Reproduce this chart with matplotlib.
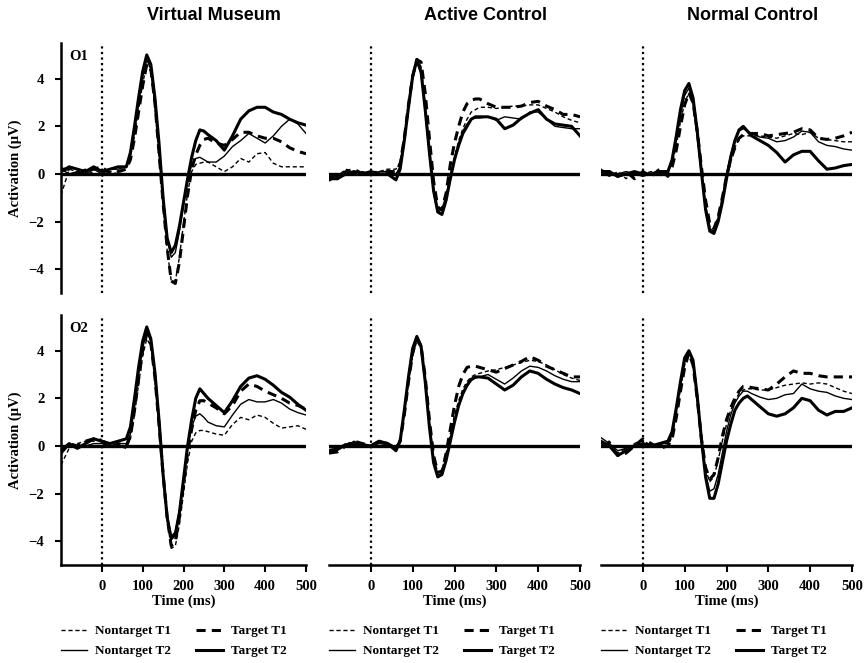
import matplotlib
matplotlib.use('Agg')
import matplotlib.pyplot as plt
import numpy as np

# time axis (ms)
t = [-100, -80, -60, -40, -20, 0, 20, 40, 60,
     70, 80, 90, 100, 110, 120, 130, 140, 150, 160, 170, 180, 190, 200, 210, 220, 230, 240, 250, 260,
     280, 300, 320, 340, 360, 380, 400, 420, 440, 460, 480, 500]

groups = ['Virtual Museum', 'Active Control', 'Normal Control']
channels = ['O1', 'O2']
conditions = ['Nontarget T1', 'Nontarget T2', 'Target T1', 'Target T2']

# ---- Virtual Museum, O1
vm_o1_nt1 = [-0.9, 0.2, 0.1, 0.2, 0.0, -0.1, 0.1, 0.0, 0.3,
             0.7, 1.6, 2.7, 3.8, 4.6, 4.3, 2.8, 0.7, -1.3, -3.2, -4.5, -4.5, -3.5, -2.1, -0.8, 0.1, 0.4, 0.45, 0.5, 0.5,
             0.3, 0.1, 0.3, 0.65, 0.5, 0.85, 0.9, 0.45, 0.3, 0.3, 0.3, 0.3]
vm_o1_t1 = [0.2, 0.2, 0.0, 0.1, 0.2, 0.3, 0.0, 0.1, 0.2,
            0.6, 1.5, 2.6, 3.7, 4.6, 4.4, 3.0, 0.9, -1.2, -3.1, -4.5, -4.6, -3.7, -2.3, -0.9, 0.2, 0.8, 1.2, 1.45, 1.5,
            1.3, 1.2, 1.45, 1.75, 1.75, 1.6, 1.5, 1.5, 1.35, 1.1, 0.95, 0.85]
vm_o1_nt2 = [0.2, 0.0, 0.1, 0.0, 0.2, 0.0, 0.2, 0.2, 0.3,
             0.8, 1.8, 3.0, 4.1, 4.8, 4.4, 2.9, 1.0, -1.0, -2.7, -3.5, -3.3, -2.4, -1.3, -0.3, 0.4, 0.65, 0.7, 0.6, 0.5,
             0.5, 0.75, 1.15, 1.4, 1.7, 1.5, 1.3, 1.6, 2.0, 2.3, 2.1, 1.7]
vm_o1_t2 = [0.1, 0.3, 0.2, 0.1, 0.3, 0.1, 0.2, 0.3, 0.3,
            0.9, 2.0, 3.2, 4.3, 5.0, 4.6, 3.2, 1.3, -1.0, -2.7, -3.3, -3.0, -2.2, -1.2, -0.2, 0.7, 1.4, 1.85, 1.8, 1.65,
            1.4, 1.0, 1.6, 2.3, 2.65, 2.8, 2.8, 2.6, 2.5, 2.3, 2.15, 2.05]

# ---- Active Control, O1
ac_o1_nt1 = [-0.3, -0.1, 0.2, 0.1, 0.0, 0.1, 0.1, 0.2, 0.2,
             0.5, 1.7, 3.0, 4.2, 4.9, 4.5, 3.0, 1.1, -0.6, -1.5, -1.5, -0.9, -0.1, 0.7, 1.4, 1.9, 2.3, 2.6, 2.7, 2.8,
             2.8, 2.75, 2.8, 2.85, 2.85, 2.9, 2.9, 2.75, 2.6, 2.4, 2.25, 2.15]
ac_o1_t1 = [-0.2, -0.2, 0.1, 0.2, 0.0, 0.0, 0.0, 0.1, 0.1,
            0.4, 1.5, 2.9, 4.1, 4.8, 4.7, 3.4, 1.5, -0.3, -1.4, -1.5, -0.8, 0.4, 1.3, 2.0, 2.6, 2.95, 3.1, 3.15, 3.15,
            2.95, 2.8, 2.8, 2.8, 2.85, 3.0, 3.05, 2.85, 2.7, 2.5, 2.5, 2.4]
ac_o1_nt2 = [-0.2, -0.1, 0.1, 0.0, 0.1, 0.0, 0.1, 0.1, 0.0,
             0.3, 1.4, 2.8, 4.0, 4.7, 4.2, 2.6, 0.8, -0.8, -1.6, -1.5, -0.9, -0.1, 0.7, 1.3, 1.8, 2.1, 2.3, 2.35, 2.35,
             2.4, 2.25, 2.4, 2.35, 2.3, 2.6, 2.6, 2.3, 2.0, 1.95, 1.9, 1.9]
ac_o1_t2 = [-0.1, -0.2, 0.0, 0.1, 0.0, 0.1, 0.0, 0.0, -0.25,
            0.2, 1.4, 2.8, 4.1, 4.8, 4.3, 2.7, 0.9, -0.7, -1.6, -1.7, -1.1, -0.2, 0.6, 1.2, 1.7, 2.0, 2.3, 2.4, 2.4,
            2.4, 2.3, 1.9, 2.05, 2.35, 2.55, 2.7, 2.3, 2.1, 2.05, 2.0, 1.6]

# ---- Normal Control, O1
nc_o1_nt1 = [0.1, -0.1, 0.1, -0.2, 0.1, 0.0, 0.1, -0.1, 0.1,
             0.4, 1.2, 2.2, 3.0, 3.4, 2.9, 1.6, 0.1, -1.3, -2.2, -2.3, -1.8, -1.0, -0.2, 0.5, 1.1, 1.5, 1.6, 1.6, 1.6,
             1.6, 1.55, 1.5, 1.6, 1.7, 1.65, 1.75, 1.5, 1.45, 1.4, 1.35, 1.35]
nc_o1_t1 = [0.0, 0.1, -0.1, 0.1, -0.2, 0.1, -0.1, 0.2, -0.1,
            0.3, 1.0, 2.0, 2.9, 3.4, 3.0, 1.8, 0.3, -1.1, -2.1, -2.3, -1.8, -1.0, -0.1, 0.6, 1.1, 1.5, 1.65, 1.7, 1.7,
            1.7, 1.6, 1.65, 1.7, 1.75, 1.9, 1.85, 1.5, 1.45, 1.5, 1.6, 1.75]
nc_o1_nt2 = [0.2, 0.0, 0.0, 0.1, 0.0, -0.1, 0.0, 0.1, 0.1,
             0.5, 1.5, 2.5, 3.3, 3.6, 3.0, 1.6, 0.0, -1.5, -2.3, -2.4, -1.9, -1.0, 0.0, 0.8, 1.4, 1.8, 1.9, 1.8, 1.7,
             1.55, 1.5, 1.35, 1.4, 1.55, 1.8, 1.75, 1.35, 1.2, 1.15, 1.05, 1.0]
nc_o1_t2 = [0.1, 0.1, -0.1, 0.0, 0.1, 0.0, 0.0, 0.1, 0.1,
            0.6, 1.6, 2.7, 3.5, 3.8, 3.2, 1.8, 0.1, -1.5, -2.4, -2.5, -2.0, -1.2, -0.2, 0.7, 1.4, 1.85, 2.0, 1.8, 1.6,
            1.4, 1.2, 0.9, 0.5, 0.8, 0.95, 0.95, 0.55, 0.2, 0.25, 0.35, 0.4]

# ---- Virtual Museum, O2
vm_o2_nt1 = [-0.8, -0.1, 0.1, 0.2, 0.2, 0.3, 0.0, 0.0, -0.1,
             0.3, 1.3, 2.6, 3.8, 4.5, 4.2, 2.8, 0.8, -1.3, -3.1, -4.3, -4.2, -3.3, -2.0, -0.7, 0.2, 0.55, 0.65, 0.65, 0.6,
             0.5, 0.45, 0.9, 1.2, 1.1, 1.3, 1.2, 0.95, 0.75, 0.8, 0.85, 0.7]
vm_o2_t1 = [-0.3, 0.1, 0.0, 0.2, 0.3, 0.2, -0.1, 0.1, 0.0,
            0.4, 1.5, 2.8, 4.0, 4.7, 4.3, 2.9, 0.9, -1.2, -3.0, -4.2, -4.0, -3.0, -1.6, -0.3, 0.7, 1.5, 1.9, 1.9, 1.8,
            1.6, 1.35, 1.7, 2.3, 2.6, 2.5, 2.3, 2.15, 2.0, 1.8, 1.7, 1.55]
vm_o2_nt2 = [-0.2, 0.0, -0.1, 0.0, 0.1, 0.1, 0.0, 0.1, 0.1,
             0.5, 1.6, 3.0, 4.1, 4.8, 4.4, 3.0, 1.0, -1.2, -2.9, -3.8, -3.6, -2.7, -1.4, -0.1, 0.8, 1.25, 1.35, 1.2, 1.0,
             0.85, 0.8, 1.3, 1.75, 1.95, 1.85, 1.85, 1.95, 1.8, 1.55, 1.4, 1.3]
vm_o2_t2 = [-0.2, 0.1, -0.1, 0.1, 0.3, 0.2, 0.1, 0.2, 0.3,
            0.8, 2.0, 3.3, 4.4, 5.0, 4.5, 3.1, 1.1, -1.2, -3.0, -3.9, -3.7, -2.8, -1.4, 0.0, 1.1, 2.0, 2.4, 2.2, 2.0,
            1.7, 1.4, 1.9, 2.5, 2.85, 2.95, 2.8, 2.55, 2.25, 2.05, 1.75, 1.5]

# ---- Active Control, O2
ac_o2_nt1 = [-0.2, -0.1, 0.1, 0.15, 0.0, 0.0, 0.15, 0.1, -0.05,
             0.3, 1.4, 2.7, 3.8, 4.4, 4.1, 2.8, 1.0, -0.5, -1.1, -1.0, -0.3, 0.5, 1.3, 1.9, 2.4, 2.7, 2.9, 3.0, 3.05,
             3.15, 3.2, 3.3, 3.4, 3.5, 3.6, 3.55, 3.4, 3.2, 3.0, 2.85, 2.75]
ac_o2_t1 = [-0.3, -0.25, 0.0, 0.2, 0.1, 0.0, 0.2, 0.1, -0.1,
            0.2, 1.3, 2.7, 3.9, 4.5, 4.2, 2.9, 1.1, -0.4, -1.1, -1.1, -0.3, 0.7, 1.7, 2.5, 3.0, 3.3, 3.35, 3.35, 3.3,
            3.2, 3.1, 3.25, 3.4, 3.55, 3.75, 3.6, 3.35, 3.2, 3.05, 2.9, 2.9]
ac_o2_nt2 = [-0.15, -0.1, 0.0, 0.2, 0.0, 0.0, 0.1, 0.05, -0.15,
             0.2, 1.4, 2.7, 3.9, 4.5, 4.1, 2.7, 0.9, -0.6, -1.2, -1.2, -0.6, 0.2, 1.0, 1.7, 2.2, 2.5, 2.75, 2.85, 2.9,
             3.0, 2.8, 2.6, 2.85, 3.15, 3.35, 3.3, 3.15, 2.95, 2.8, 2.7, 2.7]
ac_o2_t2 = [-0.2, -0.15, 0.05, 0.1, 0.05, 0.0, 0.2, 0.1, -0.2,
            0.2, 1.5, 2.9, 4.1, 4.6, 4.2, 2.7, 0.8, -0.7, -1.3, -1.2, -0.6, 0.2, 1.0, 1.7, 2.2, 2.55, 2.8, 2.9, 2.9,
            2.85, 2.6, 2.35, 2.55, 2.9, 3.15, 3.05, 2.8, 2.6, 2.45, 2.35, 2.2]

# ---- Normal Control, O2
nc_o2_nt1 = [0.1, 0.2, -0.3, -0.1, 0.1, 0.25, 0.0, 0.1, 0.0,
             0.4, 1.3, 2.4, 3.4, 3.9, 3.4, 1.9, 0.2, -1.0, -1.5, -1.3, -0.6, 0.2, 0.9, 1.5, 1.9, 2.2, 2.35, 2.4, 2.4,
             2.35, 2.35, 2.45, 2.55, 2.6, 2.65, 2.6, 2.65, 2.6, 2.45, 2.3, 2.2]
nc_o2_t1 = [0.0, 0.1, -0.4, -0.3, 0.0, 0.3, 0.1, -0.1, 0.0,
            0.3, 1.2, 2.3, 3.3, 3.9, 3.4, 2.0, 0.3, -0.9, -1.4, -1.2, -0.5, 0.4, 1.1, 1.6, 2.0, 2.3, 2.5, 2.5, 2.45,
            2.4, 2.35, 2.6, 2.9, 3.15, 3.05, 3.05, 2.95, 2.9, 2.9, 2.9, 2.9]
nc_o2_nt2 = [0.35, 0.1, -0.2, -0.1, 0.05, 0.0, -0.05, 0.1, 0.1,
             0.5, 1.5, 2.6, 3.6, 4.0, 3.5, 2.0, 0.3, -1.2, -1.9, -1.8, -1.2, -0.3, 0.6, 1.3, 1.8, 2.1, 2.3, 2.3, 2.2,
             2.05, 1.95, 2.0, 2.15, 2.2, 2.6, 2.4, 2.3, 2.25, 2.1, 2.0, 1.95]
nc_o2_t2 = [0.2, 0.0, -0.4, -0.2, 0.0, 0.1, 0.0, 0.1, 0.2,
            0.6, 1.6, 2.7, 3.7, 4.0, 3.6, 2.1, 0.3, -1.3, -2.2, -2.2, -1.6, -0.7, 0.2, 0.9, 1.5, 1.8, 2.0, 2.1, 1.95,
            1.65, 1.35, 1.25, 1.35, 1.6, 2.0, 1.9, 1.5, 1.3, 1.45, 1.45, 1.6]

panels = {
    ('O1', 0): [vm_o1_nt1, vm_o1_nt2, vm_o1_t1, vm_o1_t2],
    ('O1', 1): [ac_o1_nt1, ac_o1_nt2, ac_o1_t1, ac_o1_t2],
    ('O1', 2): [nc_o1_nt1, nc_o1_nt2, nc_o1_t1, nc_o1_t2],
    ('O2', 0): [vm_o2_nt1, vm_o2_nt2, vm_o2_t1, vm_o2_t2],
    ('O2', 1): [ac_o2_nt1, ac_o2_nt2, ac_o2_t1, ac_o2_t2],
    ('O2', 2): [nc_o2_nt1, nc_o2_nt2, nc_o2_t1, nc_o2_t2],
}

# line styles: thin dashed, thin solid, thick dashed, thick solid
styles = [dict(lw=1.0, dashes=(3, 2)), dict(lw=1.0, ls='-'),
          dict(lw=2.2, dashes=(3, 2)), dict(lw=2.2, ls='-')]

serif = 'Liberation Serif'
plt.rcParams['font.family'] = serif
plt.rcParams['font.weight'] = 'bold'

fig = plt.figure(figsize=(8.65, 6.63), dpi=100)
W, H = 865, 663
col_x = [61, 329, 601]
col_w = [245, 251, 251]
row_top = [43, 315]
row_h = 250

for r, ch in enumerate(channels):
    for c in range(3):
        ax = fig.add_axes([col_x[c] / W, 1 - (row_top[r] + row_h) / H, col_w[c] / W, row_h / H])
        ax.set_xlim(-100, 500)
        ax.set_ylim(-5, 5.5)
        ax.axhline(0, color='black', lw=2.4, zorder=1)
        ax.axvline(0, color='black', lw=1.6, ls=(0, (1, 1.5)), zorder=1)
        for ys, st, lab in zip(panels[(ch, c)], styles, conditions):
            ax.plot(t, ys, color='black', label=lab, zorder=3, **st)

        for s in ['top', 'right']:
            ax.spines[s].set_visible(False)
        if c == 0:
            ax.spines['left'].set_linewidth(1.8)
            ax.set_yticks([-4, -2, 0, 2, 4])
            ax.tick_params(axis='y', length=4, width=1.5, labelsize=10.5, pad=8)
            ax.set_ylabel('Activation (μV)', fontsize=10.5, fontweight='bold', labelpad=5)
            ax.text(0.035, 0.945, ch, transform=ax.transAxes, fontsize=10.5,
                    fontweight='bold', va='center', ha='left')
        else:
            ax.spines['left'].set_visible(False)
            ax.set_yticks([])
        if r == 1:
            ax.spines['bottom'].set_linewidth(1.8)
            ax.set_xticks([0, 100, 200, 300, 400, 500])
            ax.tick_params(axis='x', length=5, width=1.5, labelsize=10.5, pad=6)
            ax.set_xlabel('Time (ms)', fontsize=10.5, fontweight='bold', labelpad=1)
        else:
            ax.spines['bottom'].set_visible(False)
            ax.set_xticks([])

        if r == 1:
            handles, labels = ax.get_legend_handles_labels()
            fig.legend(handles, labels, loc='upper left',
                       bbox_to_anchor=(col_x[c] / W, 1 - 625 / H), ncol=2,
                       frameon=False, fontsize=9.5, borderpad=0, borderaxespad=0,
                       handlelength=2.0, handletextpad=0.6, columnspacing=1.9,
                       labelspacing=0.6)

# column titles
title_x = [214, 485, 753]
for name, x in zip(groups, title_x):
    fig.text(x / W, 1 - 16 / H, name, ha='center', va='center',
             fontsize=13, fontweight='bold', family='Liberation Sans')

fig.savefig('out.png', dpi=100)
